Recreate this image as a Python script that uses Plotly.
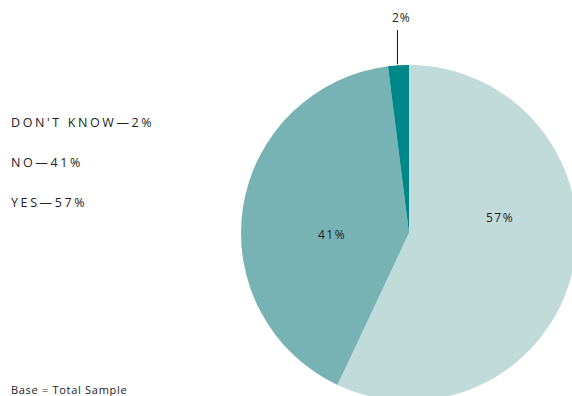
import math
import plotly.graph_objects as go

labels = ["YES", "NO", "DON'T KNOW"]
values = [57, 41, 2]
colors = ["#c1dada", "#77b3b4", "#00878a"]
legend_lines = ["DON'T KNOW—2%", "NO—41%", "YES—57%"]
note = "Base = Total Sample"

W, H = 590, 410
cx, cy, r = 409, 233, 168  # pie centre / radius in pixels (from top-left)

FONT = "'Open Sans', Lato, sans-serif"
TXT = "#222222"

fig = go.Figure(go.Pie(
    labels=labels, values=values, sort=False, direction="clockwise", rotation=0,
    marker=dict(colors=colors, line=dict(width=0)),
    textinfo="none", hoverinfo="label+percent", showlegend=False,
    domain=dict(x=[(cx - r) / W, (cx + r) / W], y=[(H - cy - r) / H, (H - cy + r) / H]),
))

def px(x):
    return x / W

def py(y):
    return 1 - y / H

def spaced(s, ls):
    return f"<span style='letter-spacing:{ls}px'>{s}</span>"

ann = []
for i, t in enumerate(legend_lines):
    ann.append(dict(text=spaced(t, 2.6), x=px(9), y=py(122 + 40 * i), xref="paper", yref="paper",
                    xanchor="left", yanchor="middle", showarrow=False,
                    font=dict(family=FONT, size=12.5, color=TXT)))
ann.append(dict(text=spaced(note, 0.7), x=px(9), y=py(389), xref="paper", yref="paper",
                xanchor="left", yanchor="middle", showarrow=False,
                font=dict(family=FONT, size=11, color=TXT)))

# percentage labels
label_pos = {0: (500, 217), 1: (332, 235)}
for i, (lx, ly) in label_pos.items():
    ann.append(dict(text=spaced(f"{values[i]}%", 1.5), x=px(lx), y=py(ly), xref="paper", yref="paper",
                    xanchor="center", yanchor="middle", showarrow=False,
                    font=dict(family=FONT, size=12, color=TXT)))

# small slice: leader line from slice edge upward
total = sum(values)
start = sum(values[:2]) / total * 360
mid = math.radians(start + values[2] / total * 360 / 2)
ex = cx + r * math.sin(mid)
ey = cy - r * math.cos(mid)
shapes = [dict(type="line", xref="paper", yref="paper", x0=px(ex - 1), y0=py(ey - 1),
               x1=px(ex - 1), y1=py(30), line=dict(color="#111111", width=1))]
ann.append(dict(text=spaced(f"{values[2]}%", 1), x=px(ex + 3), y=py(17), xref="paper", yref="paper",
                xanchor="center", yanchor="middle", showarrow=False,
                font=dict(family=FONT, size=12, color=TXT)))

fig.update_layout(width=W, height=H, margin=dict(l=0, r=0, t=0, b=0),
                  paper_bgcolor="white", plot_bgcolor="white",
                  annotations=ann, shapes=shapes)

fig.write_html("out.html", config={"displayModeBar": False},
               post_script="document.body.style.margin='0';document.documentElement.style.overflow='hidden';document.body.style.overflow='hidden';")
